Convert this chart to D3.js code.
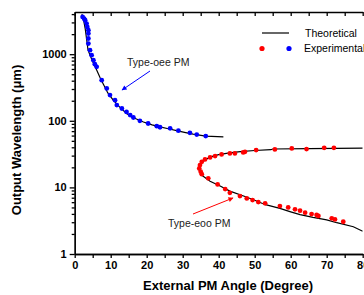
<!DOCTYPE html>
<html>
<head>
<meta charset="utf-8">
<script src="https://cdn.jsdelivr.net/npm/d3@7"></script>
<style>
  body { margin: 0; background: #fff; }
  svg { display: block; }
</style>
</head>
<body>
<svg id="visualization" width="364" height="295"></svg>
<script>
// [angle (deg), wavelength (um)]
const oeeExperimental = [
    [2.2, 3630], [2.6, 3430], [2.9, 3235], [3.3, 2885], [3.5, 2570], [3.8, 2290],
    [3.8, 2040], [3.8, 1720], [3.8, 1445], [4.25, 1150], [4.7, 965], [5.2, 813],
    [5.6, 708], [6.1, 645], [7.5, 407], [8.9, 306], [9.8, 243], [11.2, 204],
    [11.7, 172], [13.1, 153], [14.4, 136], [15.4, 122], [16.3, 112], [18.1, 100],
    [20.4, 91], [22.8, 83], [23.7, 80], [26.5, 77], [28.8, 71], [32.0, 66],
    [33.9, 62], [36.4, 59]
];

const eooExperimental = [
    [72.0, 39.3], [69.3, 39.3], [64.4, 37.6], [60.3, 38.5], [55.6, 37.2], [50.4, 36.3],
    [47.3, 34.2], [46.8, 33.5], [44.5, 32.4], [43.1, 32.4], [40.8, 31.3], [39.0, 29.5],
    [37.6, 28.2], [36.2, 26.3], [35.3, 24.2], [34.8, 21.6], [34.6, 19.3], [35.0, 17.2],
    [35.3, 15.8], [37.1, 13.7], [39.7, 11.1], [41.8, 9.44], [43.1, 8.3], [45.9, 7.4],
    [47.8, 6.84], [49.4, 6.46], [51.0, 6.03], [52.9, 5.76], [57.0, 5.25], [59.3, 5.0],
    [61.2, 4.68], [62.6, 4.47], [64.0, 4.17], [65.8, 3.98], [67.2, 3.85], [67.7, 3.72],
    [71.4, 3.43], [72.3, 3.31], [74.6, 3.05]
];

const oeeTheoretical = [
    [2.0, 4000], [2.5, 3200], [2.9, 2450], [3.3, 1700], [3.7, 1150], [4.5, 900],
    [5.2, 730], [6.1, 580], [7.0, 450], [8.0, 350], [9.2, 262], [10.7, 204],
    [12.5, 160], [14.4, 129], [16.5, 110], [19.1, 96], [21.5, 87], [23.7, 81],
    [26, 76], [28.3, 71], [30.5, 67], [32.9, 63], [36.4, 59], [41.3, 57.5]
];

const eooTheoretical = [
    [80, 38.8], [65, 38.3], [55, 37.7], [54.5, 36.8], [50, 35.8], [46, 34.5],
    [43, 33], [40, 31], [38, 29], [36.5, 26.5], [35.2, 23.5], [34.6, 20],
    [34.6, 18], [35.0, 16], [35.6, 14.8], [37.6, 12.4], [40.4, 10.5], [43.1, 8.8],
    [47.3, 7.3], [50, 6.4], [53, 5.5], [57, 4.85], [60, 4.3], [62.6, 3.9],
    [66.2, 3.55], [70, 3.25], [72.8, 2.95], [77.4, 2.57], [80, 2.2]
];

const xMajorTicks = [0, 10, 20, 30, 40, 50, 60, 70, 80];
const xMinorTicks = [5, 15, 25, 35, 45, 55, 65, 75];
const yMajorTicks = [1, 10, 100, 1000];

const renderVisualization = () => {
    const width = 364;
    const height = 295;
    const margin = { top: 12, right: 1.3, bottom: 41, left: 74.7 };

    const svg = d3.select("#visualization");
    svg.selectAll("*").remove();

    const x = d3.scaleLinear().domain([0, 80]).range([margin.left, width - margin.right]);
    const y = d3.scaleLog().domain([1, 4300]).range([height - margin.bottom, margin.top]);

    const font = '"Liberation Sans", Arial, sans-serif';

    const defs = svg.append("defs");
    defs.append("clipPath")
        .attr("id", "plot-clip")
        .append("rect")
        .attr("x", margin.left)
        .attr("y", margin.top)
        .attr("width", width - margin.left - margin.right)
        .attr("height", height - margin.top - margin.bottom);

    [["arrow-blue", "#0000ff"], ["arrow-red", "#ff0000"]].forEach(([id, color]) => {
        defs.append("marker")
            .attr("id", id)
            .attr("viewBox", "0 0 10 10")
            .attr("refX", 9)
            .attr("refY", 5)
            .attr("markerWidth", 6)
            .attr("markerHeight", 5)
            .attr("markerUnits", "userSpaceOnUse")
            .attr("orient", "auto")
            .append("path")
            .attr("d", "M0,0 L10,5 L0,10 z")
            .attr("fill", color);
    });

    // minor ticks for log axis
    const yMinorTicks = [];
    [1, 10, 100, 1000].forEach(dec => {
        for (let k = 2; k <= 9; k++) {
            if (dec * k < 4300) yMinorTicks.push(dec * k);
        }
    });

    const styleAxis = g => {
        g.selectAll("path, line").attr("stroke", "#000").attr("stroke-width", 1.3);
        g.selectAll("text")
            .attr("font-family", font)
            .attr("font-weight", "bold")
            .attr("font-size", 11)
            .attr("fill", "#000");
    };

    // bottom axis
    svg.append("g")
        .attr("transform", `translate(0, ${height - margin.bottom})`)
        .call(d3.axisBottom(x).tickValues(xMinorTicks).tickSize(4).tickSizeOuter(0).tickFormat(""))
        .call(styleAxis);
    svg.append("g")
        .attr("transform", `translate(0, ${height - margin.bottom})`)
        .call(d3.axisBottom(x).tickValues(xMajorTicks).tickSize(4).tickSizeOuter(0).tickPadding(3))
        .call(styleAxis);

    // top axis (ticks inward)
    svg.append("g")
        .attr("transform", `translate(0, ${margin.top})`)
        .call(d3.axisBottom(x).tickValues(xMajorTicks.concat(xMinorTicks)).tickSize(4).tickSizeOuter(0).tickFormat(""))
        .call(styleAxis);

    // left axis
    svg.append("g")
        .attr("transform", `translate(${margin.left}, 0)`)
        .call(d3.axisLeft(y).tickValues(yMinorTicks).tickSize(3).tickSizeOuter(0).tickFormat(""))
        .call(styleAxis);
    svg.append("g")
        .attr("transform", `translate(${margin.left}, 0)`)
        .call(d3.axisLeft(y).tickValues(yMajorTicks).tickSize(5).tickSizeOuter(0).tickPadding(3).tickFormat(d3.format("d")))
        .call(styleAxis);

    const plot = svg.append("g").attr("clip-path", "url(#plot-clip)");

    const line = d3.line()
        .x(d => x(d[0]))
        .y(d => y(d[1]));

    // theoretical curves
    plot.selectAll("path.theory")
        .data([oeeTheoretical, eooTheoretical])
        .join("path")
        .attr("class", "theory")
        .attr("fill", "none")
        .attr("stroke", "#000")
        .attr("stroke-width", 1.2)
        .attr("d", line);

    // experimental points
    plot.selectAll("circle.oee")
        .data(oeeExperimental)
        .join("circle")
        .attr("class", "oee")
        .attr("cx", d => x(d[0]))
        .attr("cy", d => y(d[1]))
        .attr("r", 2.4)
        .attr("fill", "#0000ff");

    plot.selectAll("circle.eoo")
        .data(eooExperimental)
        .join("circle")
        .attr("class", "eoo")
        .attr("cx", d => x(d[0]))
        .attr("cy", d => y(d[1]))
        .attr("r", 2.4)
        .attr("fill", "#ff0000");

    // annotations
    svg.append("text")
        .attr("x", 127)
        .attr("y", 66)
        .attr("font-family", font)
        .attr("font-size", 10.5)
        .attr("fill", "#222")
        .text("Type-oee PM");
    svg.append("line")
        .attr("x1", 150).attr("y1", 71)
        .attr("x2", 122).attr("y2", 90)
        .attr("stroke", "#0000ff")
        .attr("stroke-width", 1)
        .attr("marker-end", "url(#arrow-blue)");

    svg.append("text")
        .attr("x", 168)
        .attr("y", 227)
        .attr("font-family", font)
        .attr("font-size", 10.5)
        .attr("fill", "#222")
        .text("Type-eoo PM");
    svg.append("line")
        .attr("x1", 193).attr("y1", 214)
        .attr("x2", 233).attr("y2", 198)
        .attr("stroke", "#ff0000")
        .attr("stroke-width", 1)
        .attr("marker-end", "url(#arrow-red)");

    // legend
    const legend = svg.append("g").attr("font-family", font).attr("font-size", 10.5);
    legend.append("line")
        .attr("x1", 262).attr("x2", 289)
        .attr("y1", 33).attr("y2", 33)
        .attr("stroke", "#000")
        .attr("stroke-width", 1.2);
    legend.append("text").attr("x", 305).attr("y", 36.5).text("Theoretical");
    legend.append("circle").attr("cx", 262).attr("cy", 48.5).attr("r", 2.6).attr("fill", "#ff0000");
    legend.append("circle").attr("cx", 289).attr("cy", 48.5).attr("r", 2.6).attr("fill", "#0000ff");
    legend.append("text").attr("x", 304).attr("y", 52).text("Experimental");

    // axis titles
    svg.append("text")
        .attr("x", 228)
        .attr("y", 290)
        .attr("text-anchor", "middle")
        .attr("font-family", font)
        .attr("font-weight", "bold")
        .attr("font-size", 13)
        .text("External PM Angle (Degree)");

    svg.append("text")
        .attr("transform", `translate(21, 140) rotate(-90)`)
        .attr("text-anchor", "middle")
        .attr("font-family", font)
        .attr("font-weight", "bold")
        .attr("font-size", 13)
        .text("Output Wavelength (\u03bcm)");
};

renderVisualization();
</script>
</body>
</html>
